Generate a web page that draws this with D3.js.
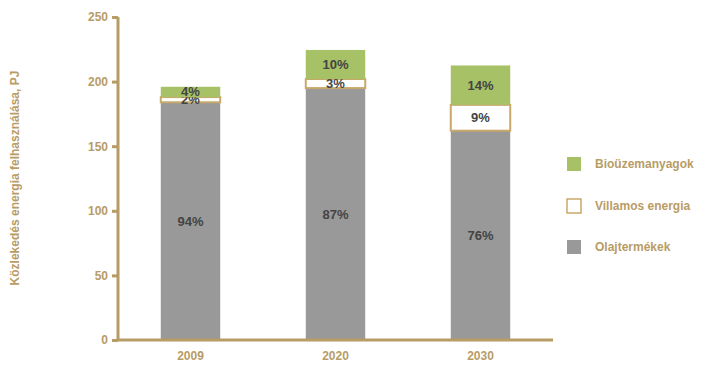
<!DOCTYPE html>
<html><head><meta charset="utf-8">
<script src="https://cdn.jsdelivr.net/npm/d3@7"></script>
<style>
body{margin:0;background:#fff;}
text{font-family:"Liberation Sans",Arial,sans-serif;font-weight:bold;}
</style></head><body>
<svg id="c" width="707" height="365"></svg>
<script>
const years = ["2009","2020","2030"];
const oil = [184, 195, 162];
const elec = [4, 7, 20];
const bio = [8, 22.5, 30.5];
const oilPct = ["94%","87%","76%"];
const elecPct = ["2%","3%","9%"];
const bioPct = ["4%","10%","14%"];
const yTicks = [0,50,100,150,200,250];
const seriesNames = ["Bioüzemanyagok","Villamos energia","Olajtermékek"];

const tan = "#b89c66";
const svg = d3.select("#c");
const x = d3.scaleBand().domain(years).range([118,553]).paddingInner(0.59).paddingOuter(0.295);
const y = d3.scaleLinear().domain([0,250]).range([340,17]);

const series = [
  {name:"Olajtermékek", vals:oil, pct:oilPct, fill:"#999999", stroke:"none"},
  {name:"Villamos energia", vals:elec, pct:elecPct, fill:"#ffffff", stroke:"#c9a96b"},
  {name:"Bioüzemanyagok", vals:bio, pct:bioPct, fill:"#a6c166", stroke:"none"}
];
const g = svg.append("g");
years.forEach((yr,i)=>{
  let base = 0;
  series.forEach(s=>{
    const v = s.vals[i];
    const y0 = y(base), y1 = y(base+v);
    g.append("rect").attr("x",x(yr)).attr("width",x.bandwidth())
      .attr("y",y1).attr("height",y0-y1)
      .attr("fill",s.fill).attr("stroke",s.stroke).attr("stroke-width",s.stroke==="none"?0:2);
    g.append("text").attr("x",x(yr)+x.bandwidth()/2).attr("y",(y0+y1)/2)
      .attr("text-anchor","middle").attr("dominant-baseline","central")
      .attr("font-size",13).attr("fill","#444444").text(s.pct[i]);
    base += v;
  });
});

// axes
const ya = svg.append("g").attr("transform","translate(118,0)")
  .call(d3.axisLeft(y).tickValues(yTicks).tickSize(6).tickPadding(4));
ya.select(".domain").attr("stroke",tan).attr("stroke-width",3).attr("d","M0,340V17");
ya.selectAll(".tick line").attr("stroke",tan).attr("stroke-width",3);
ya.selectAll(".tick text").attr("fill",tan).attr("font-size",12).attr("font-family","Liberation Sans, Arial, sans-serif").attr("font-weight","bold");

const xa = svg.append("g").attr("transform","translate(0,340)")
  .call(d3.axisBottom(x).tickSize(0).tickPadding(11));
xa.select(".domain").attr("stroke",tan).attr("stroke-width",3).attr("d","M117,0H553");
xa.selectAll(".tick text").attr("fill",tan).attr("font-size",12).attr("font-family","Liberation Sans, Arial, sans-serif").attr("font-weight","bold");

svg.append("text").attr("transform","translate(19,178) rotate(-90)")
  .attr("text-anchor","middle").attr("font-size",12).attr("fill",tan)
  .text("Közlekedés energia felhasználása, PJ");

// legend
const legY = [164, 206, 247];
const legFill = ["#a6c166","#ffffff","#999999"];
const legStroke = ["none","#c9a96b","none"];
seriesNames.forEach((n,i)=>{
  svg.append("rect").attr("x",567).attr("y",legY[i]-7).attr("width",14).attr("height",14)
    .attr("fill",legFill[i]).attr("stroke",legStroke[i]).attr("stroke-width",legStroke[i]==="none"?0:1.5);
  svg.append("text").attr("x",595).attr("y",legY[i]).attr("dominant-baseline","central")
    .attr("font-size",12).attr("fill",tan).text(n);
});
</script></body></html>
